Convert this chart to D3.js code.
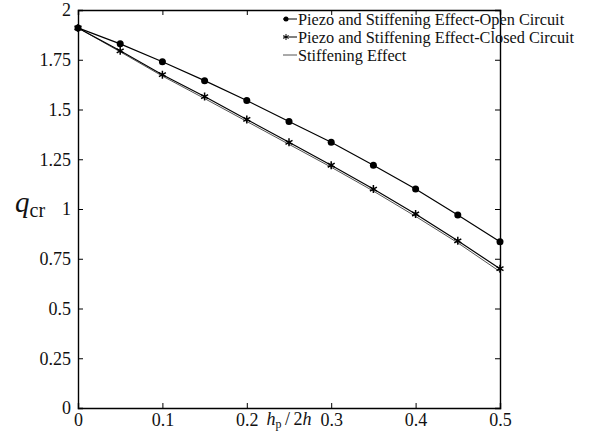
<!DOCTYPE html>
<html>
<head>
<meta charset="utf-8">
<script src="https://cdn.jsdelivr.net/npm/d3@7"></script>
<style>
  body { margin: 0; background: #fff; }
</style>
</head>
<body>
<svg id="chart" width="604" height="434"></svg>
<script>
// thickness ratio hp/2h
var ratio = [0, 0.05, 0.1, 0.15, 0.2, 0.25, 0.3, 0.35, 0.4, 0.45, 0.5];
var openCircuit = [1.91, 1.83, 1.74, 1.645, 1.545, 1.44, 1.335, 1.22, 1.10, 0.97, 0.835];
var closedCircuit = [1.91, 1.795, 1.675, 1.565, 1.45, 1.335, 1.22, 1.10, 0.975, 0.84, 0.70];
var stiffening = [1.91, 1.79, 1.668, 1.555, 1.44, 1.325, 1.21, 1.09, 0.963, 0.83, 0.685];
var xTicks = [0, 0.1, 0.2, 0.3, 0.4, 0.5];
var yTicks = [0, 0.25, 0.5, 0.75, 1, 1.25, 1.5, 1.75, 2];
var legendLabels = ["Piezo and Stiffening Effect-Open Circuit",
  "Piezo and Stiffening Effect-Closed Circuit",
  "Stiffening Effect"];

var FONT = "Liberation Serif";

var margin = { top: 10, right: 104, bottom: 26, left: 78 },
  width = 604 - margin.left - margin.right,
  height = 434 - margin.top - margin.bottom;

var svg = d3.select("#chart");
var g = svg.append("g")
  .attr("transform", "translate(" + margin.left + "," + margin.top + ")");

var x = d3.scaleLinear().domain([0, 0.5]).range([0, width]);
var y = d3.scaleLinear().domain([0, 2]).range([height, 0]);

function fmt(d) { return String(d); }

// axes, ticks inward
g.append("g").attr("transform", "translate(0," + height + ")")
  .call(d3.axisBottom(x).tickValues(xTicks).tickSize(-5).tickPadding(5).tickFormat(fmt));
g.append("g")
  .call(d3.axisLeft(y).tickValues(yTicks).tickSize(-5).tickPadding(7).tickFormat(fmt));
g.append("g")
  .call(d3.axisTop(x).tickValues(xTicks).tickSize(-5).tickFormat(""));
g.append("g").attr("transform", "translate(" + width + ",0)")
  .call(d3.axisRight(y).tickValues(yTicks).tickSize(-5).tickFormat(""));

g.selectAll(".domain").attr("stroke", "#000").attr("stroke-width", 1.4);
g.selectAll(".tick line").attr("stroke", "#000");
g.selectAll(".tick text").attr("font-family", FONT).attr("font-size", 18).attr("fill", "#111");

var line = d3.line()
  .x(function (d, i) { return x(ratio[i]); })
  .y(function (d) { return y(d); });

// stiffening only
g.append("path").datum(stiffening)
  .attr("d", line).attr("fill", "none").attr("stroke", "#555").attr("stroke-width", 1);

// closed circuit
g.append("path").datum(closedCircuit)
  .attr("d", line).attr("fill", "none").attr("stroke", "#000").attr("stroke-width", 1.2);
var star = d3.symbol().type(d3.symbolAsterisk).size(45);
g.selectAll(".star").data(closedCircuit).enter().append("path")
  .attr("class", "star")
  .attr("transform", function (d, i) { return "translate(" + x(ratio[i]) + "," + y(d) + ")"; })
  .attr("d", star).attr("fill", "none").attr("stroke", "#000").attr("stroke-width", 1.5);

// open circuit
g.append("path").datum(openCircuit)
  .attr("d", line).attr("fill", "none").attr("stroke", "#000").attr("stroke-width", 1.2);
g.selectAll(".dot").data(openCircuit).enter().append("circle")
  .attr("class", "dot")
  .attr("cx", function (d, i) { return x(ratio[i]); })
  .attr("cy", function (d) { return y(d); })
  .attr("r", 3.5).attr("fill", "#000");

// legend
var legend = g.append("g").attr("transform", "translate(205,9)");
legendLabels.forEach(function (lab, i) {
  var row = legend.append("g").attr("transform", "translate(0," + (i * 18) + ")");
  row.append("line").attr("x1", 0).attr("x2", 14).attr("y1", 0).attr("y2", 0)
    .attr("stroke", i == 2 ? "#555" : "#000").attr("stroke-width", 1);
  if (i == 0) row.append("circle").attr("cx", 3).attr("cy", 0).attr("r", 2.5);
  if (i == 1) row.append("path").attr("transform", "translate(3,0)")
    .attr("d", d3.symbol().type(d3.symbolAsterisk).size(25)).attr("stroke", "#000").attr("fill", "none");
  row.append("text").attr("x", 15).attr("y", 0).attr("dy", "0.35em")
    .attr("font-family", FONT).attr("font-size", 16.3).attr("fill", "#111").text(lab);
});

// y label
var yl = svg.append("text").attr("x", 15).attr("y", 212)
  .attr("font-family", FONT).attr("font-size", 29).attr("fill", "#111");
yl.append("tspan").attr("font-style", "italic").text("q");
yl.append("tspan").attr("font-size", 20).attr("dy", 5).text("cr");

// x label
var xl = svg.append("text").attr("x", 289).attr("y", 425).attr("text-anchor", "middle")
  .attr("font-family", FONT).attr("font-size", 18).attr("fill", "#111");
xl.append("tspan").attr("font-style", "italic").text("h");
xl.append("tspan").attr("font-size", 12).attr("dy", 3).text("p");
xl.append("tspan").attr("dy", -3).text("\u2009/\u20092");
xl.append("tspan").attr("font-style", "italic").text("h");
</script>
</body>
</html>
